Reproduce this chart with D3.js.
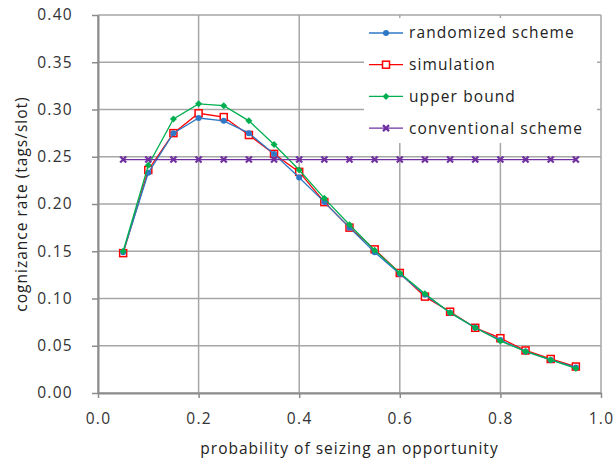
<!DOCTYPE html>
<html><head><meta charset="utf-8">
<script src="https://cdn.jsdelivr.net/npm/d3@7"></script>
<style>body{margin:0;background:#fff}svg{display:block}</style>
</head><body><svg id="c" width="614" height="463"></svg>
<script>
const xs = [0.05,0.10,0.15,0.20,0.25,0.30,0.35,0.40,0.45,0.50,0.55,0.60,0.65,0.70,0.75,0.80,0.85,0.90,0.95];
const randomized = [0.149,0.233,0.275,0.291,0.288,0.275,0.253,0.228,0.202,0.175,0.149,0.126,0.104,0.085,0.069,0.056,0.044,0.035,0.027];
const simulation = [0.148,0.236,0.275,0.296,0.292,0.273,0.253,0.234,0.202,0.175,0.152,0.127,0.102,0.086,0.069,0.058,0.045,0.036,0.028];
const upperBound = [0.150,0.241,0.290,0.306,0.304,0.288,0.263,0.236,0.206,0.178,0.151,0.127,0.105,0.085,0.069,0.055,0.044,0.035,0.026];
const conventional = [0.247,0.247,0.247,0.247,0.247,0.247,0.247,0.247,0.247,0.247,0.247,0.247,0.247,0.247,0.247,0.247,0.247,0.247,0.247];
const xTicks = [0,0.2,0.4,0.6,0.8,1.0];
const yTicks = [0,0.05,0.10,0.15,0.20,0.25,0.30,0.35,0.40];
const seriesNames = ["randomized scheme","simulation","upper bound","conventional scheme"];

const svg = d3.select("#c");
const L=98,R=601,T=15,B=393;
const x = d3.scaleLinear().domain([0,1]).range([L,R]);
const y = d3.scaleLinear().domain([0,0.4]).range([B,T]);
const font = "'Open Sans', 'DejaVu Sans', sans-serif";
const grid = "#a6a6a6";

// gridlines
svg.append("g").selectAll("line").data(yTicks).join("line")
  .attr("x1",L).attr("x2",R).attr("y1",d=>y(d)).attr("y2",d=>y(d))
  .attr("stroke",grid).attr("stroke-width",1.5);
svg.append("g").selectAll("line").data(xTicks).join("line")
  .attr("x1",d=>x(d)).attr("x2",d=>x(d)).attr("y1",T).attr("y2",B)
  .attr("stroke",grid).attr("stroke-width",1.5);

// axes
const xa = svg.append("g").attr("transform",`translate(0,${B})`)
  .call(d3.axisBottom(x).tickValues(xTicks).tickFormat(d3.format(".1f")).tickSize(5).tickSizeOuter(0).tickPadding(15));
const ya = svg.append("g").attr("transform",`translate(${L},0)`)
  .call(d3.axisLeft(y).tickValues(yTicks).tickFormat(d3.format(".2f")).tickSize(6).tickSizeOuter(0).tickPadding(19));
[xa,ya].forEach(a=>{
  a.select(".domain").attr("stroke","#8c8c8c").attr("stroke-width",2);
  a.selectAll(".tick line").attr("stroke","#8c8c8c").attr("stroke-width",1.5);
  a.selectAll("text").attr("font-family",font).attr("font-size",15.5).attr("letter-spacing","1.3px").attr("fill","#333");
});

const series = [
  {name:seriesNames[0], vals:randomized, color:"#2e78c6", marker:"circle"},
  {name:seriesNames[1], vals:simulation, color:"#ff0000", marker:"square"},
  {name:seriesNames[2], vals:upperBound, color:"#00b050", marker:"diamond"},
  {name:seriesNames[3], vals:conventional, color:"#7030a0", marker:"cross"}
];
const line = d3.line().x(d=>x(d[0])).y(d=>y(d[1]));

function drawMarker(g, type, color){
  if(type==="circle") g.append("circle").attr("r",3).attr("fill",color);
  else if(type==="square") g.append("rect").attr("x",-3.5).attr("y",-3.5).attr("width",7).attr("height",7).attr("fill","#fff").attr("stroke",color).attr("stroke-width",1.5);
  else if(type==="diamond") g.append("path").attr("d","M0,-3.5L3.5,0L0,3.5L-3.5,0Z").attr("fill",color);
  else if(type==="cross") g.append("path").attr("d","M-3,-3L3,3M-3,3L3,-3").attr("stroke",color).attr("stroke-width",2.2);
}

// draw order: simulation, randomized, upper bound, conventional
[1,0,2,3].forEach(i=>{
  const s = series[i];
  const pts = xs.map((v,j)=>[v,s.vals[j]]);
  svg.append("path").datum(pts).attr("d",line).attr("fill","none").attr("stroke",s.color).attr("stroke-width",1.3);
  pts.forEach(p=>{
    const g = svg.append("g").attr("transform",`translate(${x(p[0])},${y(p[1])})`);
    drawMarker(g,s.marker,s.color);
  });
});

// legend
svg.append("rect").attr("x",364).attr("y",18).attr("width",233).attr("height",125).attr("fill","#fff");
series.forEach((s,i)=>{
  const ly = 33 + i*31.7;
  svg.append("line").attr("x1",369).attr("x2",403).attr("y1",ly).attr("y2",ly).attr("stroke",s.color).attr("stroke-width",1.3);
  const g = svg.append("g").attr("transform",`translate(386,${ly})`);
  drawMarker(g,s.marker,s.color);
  svg.append("text").attr("x",409).attr("y",ly).attr("dy","0.35em")
    .attr("font-family",font).attr("font-size",15.5).attr("letter-spacing","1.1px").attr("fill","#222").text(s.name);
});

// titles
svg.append("text").attr("x",(L+R)/2).attr("y",454).attr("text-anchor","middle")
  .attr("font-family",font).attr("font-size",15.5).attr("letter-spacing","1px").attr("fill","#222").text("probability of seizing an opportunity");
svg.append("text").attr("transform",`translate(27,${(T+B)/2}) rotate(-90)`).attr("text-anchor","middle")
  .attr("font-family",font).attr("font-size",15.5).attr("letter-spacing","1px").attr("fill","#222").text("cognizance rate (tags/slot)");
</script></body></html>
